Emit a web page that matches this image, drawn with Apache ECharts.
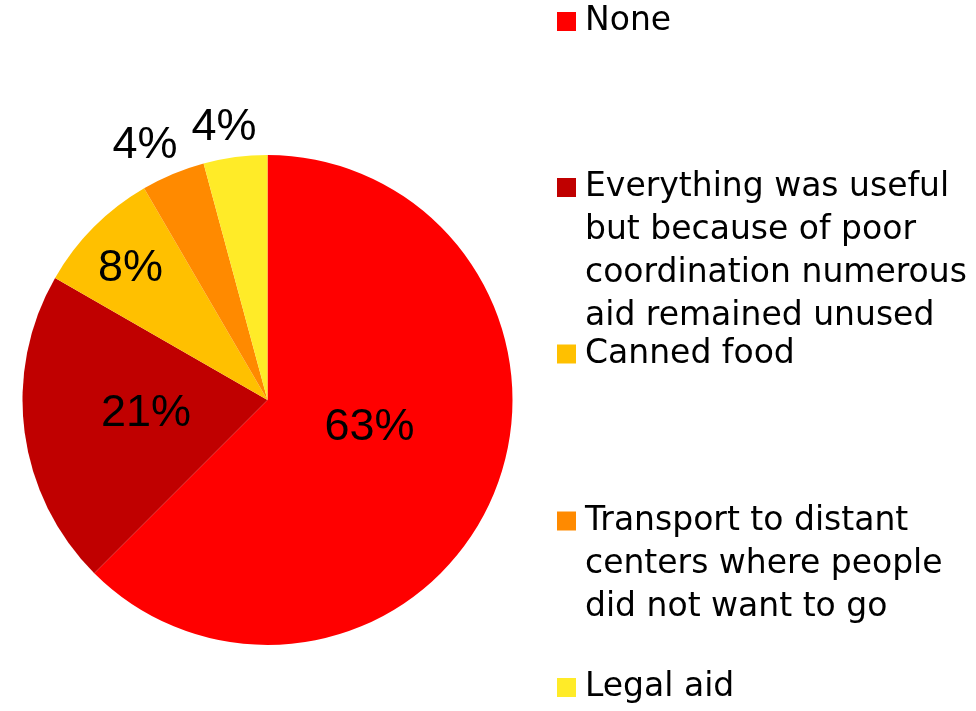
<!DOCTYPE html>
<html>
<head>
<meta charset="utf-8">
<script src="https://cdn.jsdelivr.net/npm/echarts@6/dist/echarts.min.js"></script>
<style>
html,body{margin:0;padding:0;background:#fff;}
#chart{width:976px;height:711px;}
</style>
</head>
<body>
<div id="chart"></div>
<script>
// ---- data ----
var categories = [
  'None',
  'Everything was useful\nbut because of poor\ncoordination numerous\naid remained unused',
  'Canned food',
  'Transport to distant\ncenters where people\ndid not want to go',
  'Legal aid'
];
var shares = [62.5, 20.8, 8.3, 4.2, 4.2];

// ---- styles / layout ----
var colors = ['#FF0000', '#C00000', '#FFC000', '#FF8A00', '#FFEB28'];
var labelShift = [[-14, -20], [3, -3], [-48, -43], [-74, -139], [-27, -148]];
var legendMarkerCenters = [21.5, 187.5, 354, 521, 687.5];
var LH = 43;
var FONT = '"Liberation Sans", Arial, sans-serif';
var LEGEND_FONT = '"DejaVu Sans", sans-serif';

function repeatNL(k) { var s = ''; for (var j = 0; j < k; j++) s += '\n'; return s; }

var legends = categories.map(function (name, i) {
  var n = name.split('\n').length;
  var boxH = (2 * n - 1) * LH;
  return {
    data: [name],
    left: 557,
    top: legendMarkerCenters[i] - boxH / 2,
    padding: 0,
    itemWidth: 19,
    itemHeight: 19,
    itemGap: 0,
    icon: 'rect',
    selectedMode: false,
    orient: 'vertical',
    formatter: function (nm) { return repeatNL(n - 1) + nm; },
    textStyle: {
      fontFamily: LEGEND_FONT,
      fontSize: 33,
      lineHeight: LH,
      color: '#000',
      padding: [0, 0, 0, 4]
    }
  };
});

var chart = echarts.init(document.getElementById('chart'), null, {renderer: 'canvas'});
chart.setOption({
  animation: false,
  color: colors,
  legend: legends,
  series: [{
    type: 'pie',
    center: [267.5, 400],
    radius: 245,
    startAngle: 90,
    clockwise: true,
    avoidLabelOverlap: false,
    emphasis: {disabled: true},
    itemStyle: {borderWidth: 0},
    label: {
      show: true,
      position: 'inside',
      fontFamily: FONT,
      fontSize: 45,
      color: '#000',
      formatter: function (p) { return Math.round(p.value) + '%'; }
    },
    labelLine: {show: false},
    labelLayout: function (p) {
      var s = labelShift[p.dataIndex];
      return {dx: s[0], dy: s[1]};
    },
    data: categories.map(function (c, i) {
      return {name: c, value: shares[i]};
    })
  }]
});
</script>
</body>
</html>
